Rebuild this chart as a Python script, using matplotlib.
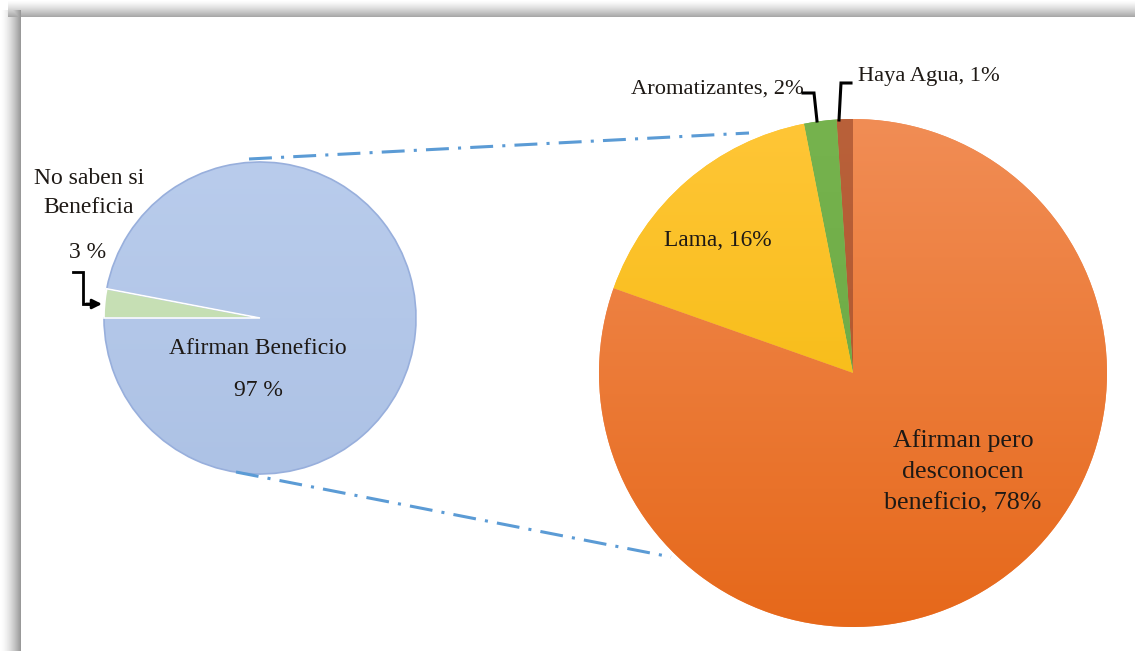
import numpy as np
import matplotlib
matplotlib.use("Agg")
import matplotlib.pyplot as plt
from matplotlib.colors import to_rgb

plt.rcParams['font.family'] = ['Liberation Serif', 'DejaVu Serif']

W, H = 1135, 651

# Main question: does the product bring a benefit?
main_labels = ['No saben si\nBeneficia', 'Afirman Beneficio']
main_values = [3, 97]
main_pct = ['3 %', '97 %']
main_top = ['#cfe5bf', '#b9ccec']
main_bottom = ['#bcd9a8', '#adc2e5']

# Breakdown of "Afirman Beneficio" (shares of the total)
sub_labels = ['Haya Agua', 'Aromatizantes', 'Lama',
              'Afirman pero\ndesconocen\nbeneficio']
sub_values = [1, 2, 16, 78]
sub_top = ['#b9613a', '#76b34e', '#ffc637', '#f18d55']
sub_bottom = ['#ad5228', '#68a540', '#f1b600', '#e6681a']

TXT = '#1e1915'


def fy(y):
    # image rows -> axes y (pointing up)
    return H - y


def shade(ax, wedge, c_top, c_bot, cx, cy, r):
    """Fill a wedge with a vertical linear gradient"""
    t = np.linspace(0, 1, 256)[:, None, None]
    top = np.array(to_rgb(c_top))[None, None, :]
    bot = np.array(to_rgb(c_bot))[None, None, :]
    img = top * (1 - t) + bot * t
    im = ax.imshow(img, extent=(cx - r, cx + r, cy - r, cy + r),
                   origin='upper', aspect='auto', zorder=2,
                   interpolation='bilinear')
    im.set_clip_path(wedge)


fig = plt.figure(figsize=(W / 100, H / 100), dpi=100)
ax = fig.add_axes([0, 0, 1, 1])

# frame shadow along the top and left edges
bg = np.ones((H, W))
xs = np.arange(21)
left = 1 - 0.40 * (xs / 20) ** 1.6
bg[10:, :21] = np.minimum(bg[10:, :21], left[None, :])
ys = np.arange(17)
topb = 1 - 0.34 * (ys / 16) ** 1.3
bg[:17, 8:] = np.minimum(bg[:17, 8:], topb[:, None])
bg_rgb = np.dstack([bg, bg, bg])
ax.imshow(bg_rgb, extent=(0, W, 0, H), origin='upper', aspect='auto',
          zorder=0, interpolation='bilinear')

# left pie
cx1, cy1, r1 = 260, fy(318), 156
w1, _ = ax.pie(main_values, startangle=169.2, counterclock=True,
               center=(cx1, cy1), radius=r1, colors=main_top,
               wedgeprops=dict(linewidth=1.2, edgecolor='white'))
for w, ct, cb in zip(w1, main_top, main_bottom):
    shade(ax, w, ct, cb, cx1, cy1, r1)
w1[1].set_edgecolor('#98afdc')
w1[1].set_zorder(3)
w1[1].set_facecolor('none')
w1[0].set_zorder(4)
w1[0].set_facecolor('none')

# right pie
cx2, cy2, r2 = 853, fy(373), 254
w2, _ = ax.pie(sub_values, startangle=90, counterclock=True,
               center=(cx2, cy2), radius=r2, colors=sub_top,
               wedgeprops=dict(linewidth=0))
for w, ct, cb in zip(w2, sub_top, sub_bottom):
    shade(ax, w, ct, cb, cx2, cy2, r2)

# connector lines between the pies
for (x0, y0), (x1, y1) in [((249, 159), (749, 133)), ((236, 472), (671, 557))]:
    ax.plot([x0, x1], [fy(y0), fy(y1)], color='#5b9bd5', lw=2.2,
            dashes=(7.5, 3, 1, 3), zorder=5)

# labels of the left pie
ax.text(89, fy(193), main_labels[0], ha='center', va='center',
        fontsize=17, color=TXT, linespacing=1.55, zorder=6)
ax.text(88, fy(252), main_pct[0], ha='center', va='center',
        fontsize=17, color=TXT, zorder=6)
ax.text(258, fy(348), main_labels[1], ha='center', va='center',
        fontsize=17, color=TXT, zorder=6)
ax.text(258, fy(391), main_pct[1], ha='center', va='center',
        fontsize=17, color=TXT, zorder=6)
ax.plot([73, 83, 83, 90], [fy(272), fy(272), fy(304), fy(304)],
        color='black', lw=2, solid_joinstyle='miter', zorder=6)
ax.annotate('', xy=(102, fy(304)), xytext=(86, fy(304)),
            arrowprops=dict(arrowstyle='-|>', color='black', lw=2,
                            mutation_scale=14, shrinkA=0, shrinkB=0),
            zorder=6)

# labels of the right pie
sub_text = [f'{lab}, {v}%' for lab, v in zip(sub_labels, sub_values)]
ax.text(858, fy(77), sub_text[0], ha='left', va='center',
        fontsize=16.2, color=TXT, zorder=6)
ax.text(717, fy(89), sub_text[1], ha='center', va='center',
        fontsize=16.2, color=TXT, zorder=6)
ax.text(718, fy(240), sub_text[2], ha='center', va='center',
        fontsize=16.8, color=TXT, zorder=6)
ax.text(963, fy(472), sub_text[3], ha='center', va='center',
        fontsize=18.7, color=TXT, linespacing=1.55, zorder=6)

# leader lines for the two thin slices
ax.plot([803, 814, 817], [fy(93), fy(93), fy(121)], color='black', lw=2.2,
        solid_joinstyle='miter', zorder=6)
ax.plot([839, 841, 851], [fy(120), fy(83), fy(83)], color='black', lw=2.2,
        solid_joinstyle='miter', zorder=6)

ax.set_xlim(0, W)
ax.set_ylim(0, H)
ax.set_aspect('auto')
ax.axis('off')

fig.savefig('out.png', dpi=100)
